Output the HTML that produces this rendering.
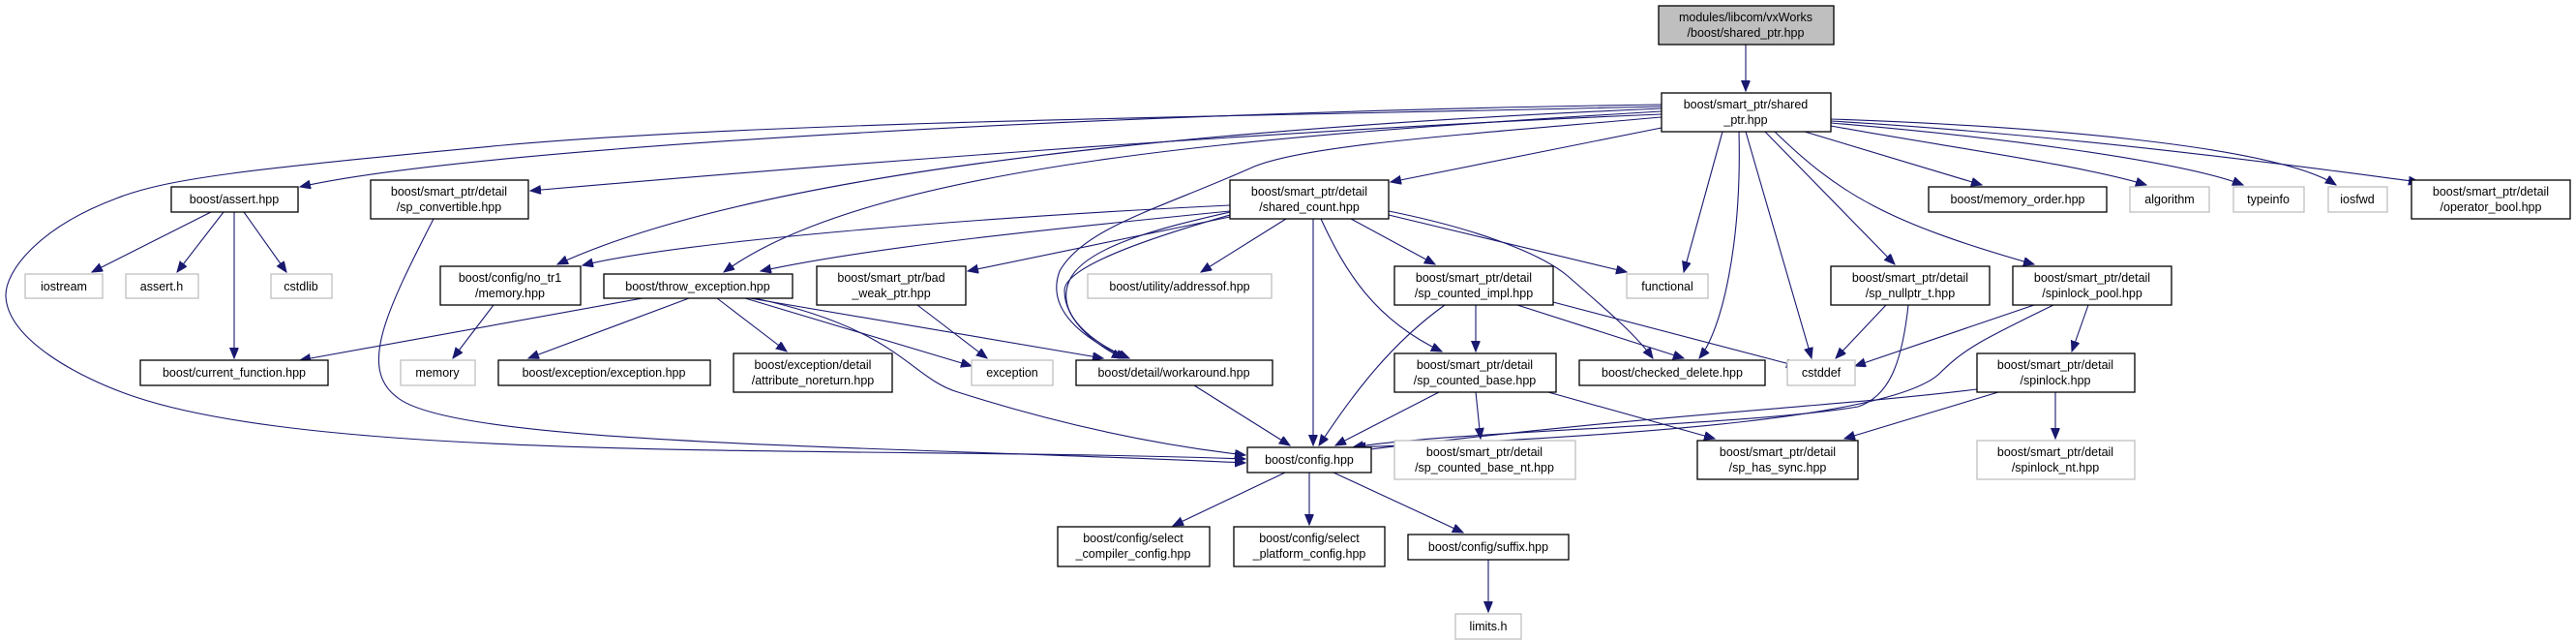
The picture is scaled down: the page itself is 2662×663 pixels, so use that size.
<!DOCTYPE html>
<html><head><meta charset="utf-8"><style>
html,body{margin:0;padding:0;background:#fff;}
svg{display:block;}
text{font-family:"Liberation Sans",sans-serif;font-size:12.5px;fill:#000;text-anchor:middle;}
.n{fill:#fff;stroke:#000;stroke-width:1.3;}
.g{fill:#fff;stroke:#bfbfbf;stroke-width:1.3;}
.r{fill:#bfbfbf;stroke:#000;stroke-width:1.3;}
path{fill:none;stroke:#191970;stroke-width:1.1;marker-end:url(#a);}
</style></head><body>
<svg width="2662" height="663" viewBox="0 0 2662 663" xmlns="http://www.w3.org/2000/svg">
<defs><marker id="a" markerUnits="userSpaceOnUse" markerWidth="12" markerHeight="10" refX="11" refY="4.5" orient="auto"><polygon points="0,0 11,4.5 0,9" fill="#191970" stroke="#191970"/></marker></defs>

<!-- edges -->
<path d="M1804,46 L1804,94"/>
<path d="M1717,108 C1200,115 500,150 310,193"/>
<path d="M1717,118 C1300,135 800,175 548,197"/>
<path d="M1717,132 L1437,188"/>
<path d="M1717,112 C1300,130 800,170 576,273"/>
<path d="M1717,115 C1300,140 900,170 748,281"/>
<path d="M1717,110 C1300,120 800,125 520,150 C250,175 170,185 120,205 C40,235 5,280 6,306 C8,350 80,390 140,410 C350,480 900,460 1287,474"/>
<path d="M1717,121 C1500,140 1350,150 1296,172 C1200,215 1120,235 1095,280 C1080,320 1120,350 1164,370"/>
<path d="M1780,136 L1740,281"/>
<path d="M1797,136 C1800,250 1780,340 1756,370"/>
<path d="M1804,136 L1872,370"/>
<path d="M1824,136 L1958,273"/>
<path d="M1834,136 C1900,200 1950,230 2102,273"/>
<path d="M1865,136 L2048,191"/>
<path d="M1892,130 C2000,150 2150,170 2218,191"/>
<path d="M1892,127 C2050,140 2250,165 2318,191"/>
<path d="M1892,123 C2100,130 2350,150 2414,191"/>
<path d="M1892,125 C2150,140 2400,175 2500,188"/>

<!-- shared_count -->
<path d="M1271,212 C1000,225 700,250 602,274"/>
<path d="M1271,218 C1100,235 900,255 786,280"/>
<path d="M1271,224 L1000,280"/>
<path d="M1271,219 C1200,235 1120,255 1105,290 C1090,325 1130,355 1167,370"/>
<path d="M1271,222 C1190,245 1100,275 1100,300 C1100,335 1140,360 1160,370"/>
<path d="M1329,226 L1241,281"/>
<path d="M1357,226 L1357,460"/>
<path d="M1365,226 C1390,280 1420,330 1490,363"/>
<path d="M1396,226 L1483,273"/>
<path d="M1435,222 L1681,281"/>
<path d="M1435,218 C1520,235 1590,260 1620,285 C1660,320 1690,345 1708,370"/>

<!-- throw_exception -->
<path d="M664,308 L310,372"/>
<path d="M712,308 L546,370"/>
<path d="M741,308 L813,363"/>
<path d="M770,308 L1004,378"/>
<path d="M775,308 L1140,370"/>
<path d="M780,308 C930,340 940,390 990,405 C1100,440 1200,460 1287,470"/>
<path d="M510,315 L468,370"/>
<path d="M448,226 C400,320 370,380 410,410 C470,460 900,460 1287,478"/>
<path d="M218,219 L95,281"/>
<path d="M231,219 L183,281"/>
<path d="M252,219 L296,281"/>
<path d="M242,219 L242,370"/>
<path d="M948,315 L1020,370"/>
<path d="M1234,398 L1333,460"/>

<!-- sp_counted_impl -->
<path d="M1525,315 L1525,363"/>
<path d="M1493,315 C1430,360 1390,420 1363,460"/>
<path d="M1568,315 L1740,370"/>
<path d="M1605,312 L1857,378"/>
<path d="M1487,405 L1380,460"/>
<path d="M1525,405 L1530,453"/>
<path d="M1600,405 L1772,453"/>

<!-- nullptr / pool / spinlock -->
<path d="M1949,315 L1897,370"/>
<path d="M1972,315 C1965,380 1950,410 1920,420 C1800,440 1500,445 1398,462"/>
<path d="M2102,315 L1917,378"/>
<path d="M2122,315 C2050,350 2030,360 2005,385 C1960,430 1700,450 1400,462"/>
<path d="M2158,315 L2141,363"/>
<path d="M2043,402 C1900,420 1700,428 1400,466"/>
<path d="M2065,405 L1906,453"/>
<path d="M2124,405 L2124,453"/>

<!-- config -->
<path d="M1328,488 L1212,543"/>
<path d="M1353,488 L1353,542"/>
<path d="M1378,488 L1512,550"/>
<path d="M1538,578 L1538,632"/>

<!-- nodes -->
<rect class="r" x="1714" y="6" width="181" height="40"/>
<text x="1804" y="22">modules/libcom/vxWorks</text><text x="1804" y="38">/boost/shared_ptr.hpp</text>

<rect class="n" x="1717" y="96" width="175" height="40"/>
<text x="1804" y="112">boost/smart_ptr/shared</text><text x="1804" y="128">_ptr.hpp</text>

<rect class="n" x="177" y="193" width="131" height="26"/><text x="242" y="210">boost/assert.hpp</text>
<rect class="n" x="383" y="186" width="163" height="40"/><text x="464" y="202">boost/smart_ptr/detail</text><text x="464" y="218">/sp_convertible.hpp</text>
<rect class="n" x="1271" y="186" width="164" height="40"/><text x="1353" y="202">boost/smart_ptr/detail</text><text x="1353" y="218">/shared_count.hpp</text>
<rect class="n" x="1993" y="193" width="184" height="26"/><text x="2085" y="210">boost/memory_order.hpp</text>
<rect class="g" x="2201" y="193" width="82" height="26"/><text x="2242" y="210">algorithm</text>
<rect class="g" x="2308" y="193" width="73" height="26"/><text x="2344" y="210">typeinfo</text>
<rect class="g" x="2406" y="193" width="61" height="26"/><text x="2436" y="210">iosfwd</text>
<rect class="n" x="2492" y="186" width="164" height="40"/><text x="2574" y="202">boost/smart_ptr/detail</text><text x="2574" y="218">/operator_bool.hpp</text>

<rect class="g" x="26" y="283" width="80" height="25"/><text x="66" y="300">iostream</text>
<rect class="g" x="130" y="283" width="75" height="25"/><text x="167" y="300">assert.h</text>
<rect class="g" x="280" y="283" width="63" height="25"/><text x="311" y="300">cstdlib</text>
<rect class="n" x="455" y="275" width="145" height="40"/><text x="527" y="291">boost/config/no_tr1</text><text x="527" y="307">/memory.hpp</text>
<rect class="n" x="624" y="283" width="195" height="25"/><text x="721" y="300">boost/throw_exception.hpp</text>
<rect class="n" x="844" y="275" width="154" height="40"/><text x="921" y="291">boost/smart_ptr/bad</text><text x="921" y="307">_weak_ptr.hpp</text>
<rect class="g" x="1124" y="283" width="190" height="25"/><text x="1219" y="300">boost/utility/addressof.hpp</text>
<rect class="n" x="1441" y="275" width="164" height="40"/><text x="1523" y="291">boost/smart_ptr/detail</text><text x="1523" y="307">/sp_counted_impl.hpp</text>
<rect class="g" x="1681" y="283" width="84" height="25"/><text x="1723" y="300">functional</text>
<rect class="n" x="1892" y="275" width="164" height="40"/><text x="1974" y="291">boost/smart_ptr/detail</text><text x="1974" y="307">/sp_nullptr_t.hpp</text>
<rect class="n" x="2080" y="275" width="164" height="40"/><text x="2162" y="291">boost/smart_ptr/detail</text><text x="2162" y="307">/spinlock_pool.hpp</text>

<rect class="n" x="145" y="372" width="194" height="26"/><text x="242" y="389">boost/current_function.hpp</text>
<rect class="g" x="414" y="372" width="77" height="26"/><text x="452" y="389">memory</text>
<rect class="n" x="515" y="372" width="219" height="26"/><text x="624" y="389">boost/exception/exception.hpp</text>
<rect class="n" x="758" y="365" width="164" height="40"/><text x="840" y="381">boost/exception/detail</text><text x="840" y="397">/attribute_noreturn.hpp</text>
<rect class="g" x="1004" y="372" width="84" height="26"/><text x="1046" y="389">exception</text>
<rect class="n" x="1112" y="372" width="203" height="26"/><text x="1213" y="389">boost/detail/workaround.hpp</text>
<rect class="n" x="1441" y="365" width="167" height="40"/><text x="1524" y="381">boost/smart_ptr/detail</text><text x="1524" y="397">/sp_counted_base.hpp</text>
<rect class="n" x="1632" y="372" width="192" height="26"/><text x="1728" y="389">boost/checked_delete.hpp</text>
<rect class="g" x="1847" y="372" width="70" height="26"/><text x="1882" y="389">cstddef</text>
<rect class="n" x="2043" y="365" width="163" height="40"/><text x="2124" y="381">boost/smart_ptr/detail</text><text x="2124" y="397">/spinlock.hpp</text>

<rect class="n" x="1289" y="462" width="128" height="26"/><text x="1353" y="479">boost/config.hpp</text>
<rect class="g" x="1441" y="455" width="187" height="40"/><text x="1534" y="471">boost/smart_ptr/detail</text><text x="1534" y="487">/sp_counted_base_nt.hpp</text>
<rect class="n" x="1754" y="455" width="166" height="40"/><text x="1837" y="471">boost/smart_ptr/detail</text><text x="1837" y="487">/sp_has_sync.hpp</text>
<rect class="g" x="2043" y="455" width="163" height="40"/><text x="2124" y="471">boost/smart_ptr/detail</text><text x="2124" y="487">/spinlock_nt.hpp</text>

<rect class="n" x="1093" y="544" width="157" height="41"/><text x="1171" y="560">boost/config/select</text><text x="1171" y="576">_compiler_config.hpp</text>
<rect class="n" x="1275" y="544" width="156" height="41"/><text x="1353" y="560">boost/config/select</text><text x="1353" y="576">_platform_config.hpp</text>
<rect class="n" x="1455" y="552" width="166" height="26"/><text x="1538" y="569">boost/config/suffix.hpp</text>
<rect class="g" x="1504" y="634" width="68" height="26"/><text x="1538" y="651">limits.h</text>
</svg>
</body></html>
